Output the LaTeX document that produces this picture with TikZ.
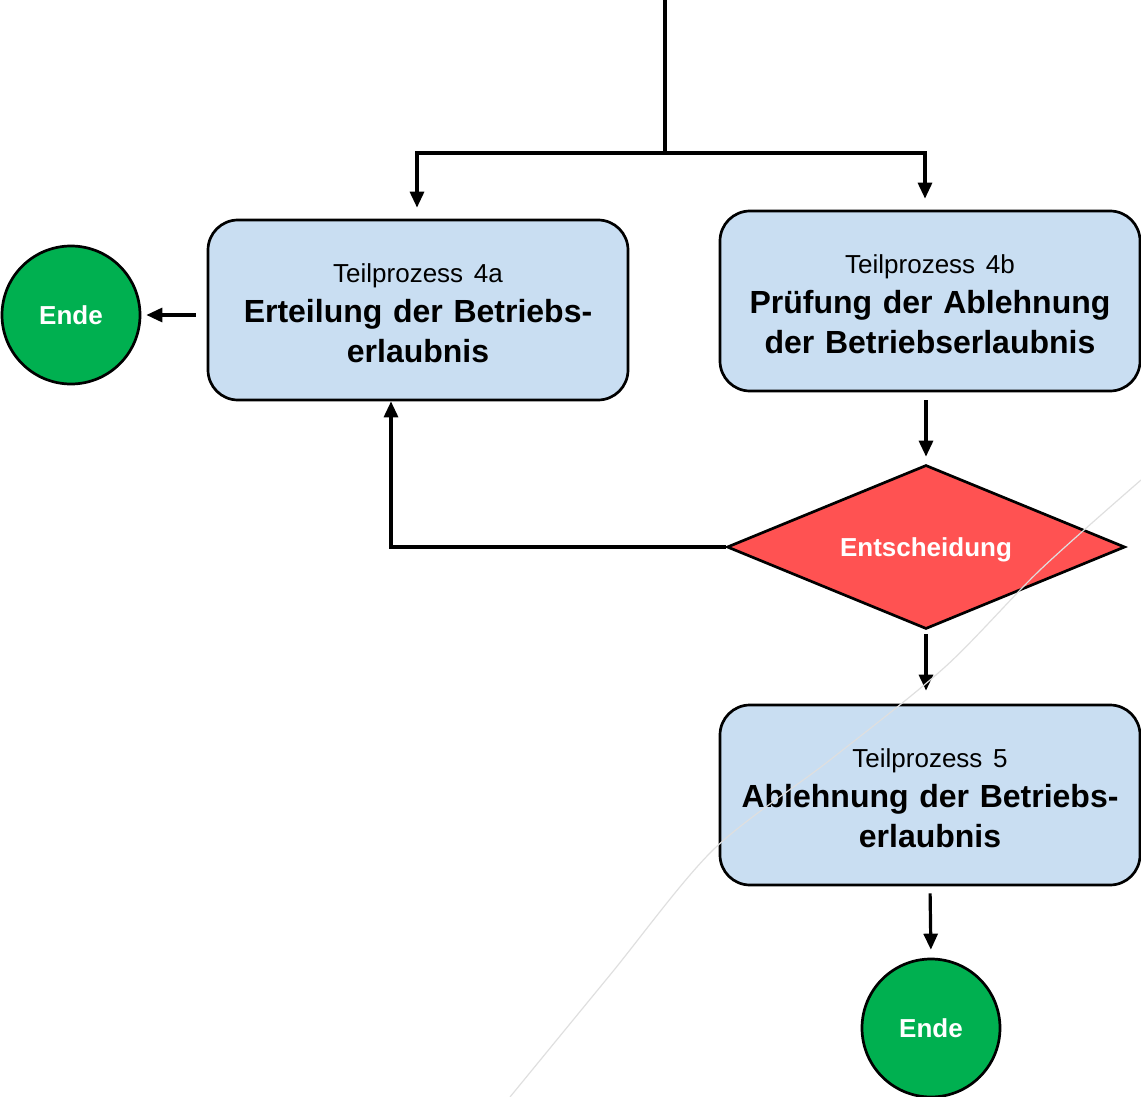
\documentclass[tikz,border=0pt]{standalone}
\usepackage{fontspec}
\setmainfont{Liberation Sans}
\usetikzlibrary{shapes, calc, arrows.meta, math}

\definecolor{hellblau}{RGB}{201,222,242}
\definecolor{gruen}{RGB}{0,176,80}
\definecolor{rot}{RGB}{255,82,82}

\newcommand{\tptitel}[1]{{\fontsize{26}{40}\selectfont\mdseries\rule{0pt}{25pt}#1}}

\begin{document}
\begin{tikzpicture}[x=1pt, y=-1pt, >={Triangle[length=16pt,width=14pt]},
	kasten/.style={draw, line width=2.7pt, fill=hellblau, rounded corners=30pt, minimum width=420pt, minimum height=180pt, text width=410pt, align=center, font=\fontsize{32}{40}\selectfont\bfseries},
	ende/.style={circle, draw, line width=2.7pt, fill=gruen, minimum size=138pt, inner sep=0pt, text=white, font=\fontsize{26}{30}\selectfont\bfseries},
	raute/.style={diamond, aspect=2.43, draw, line width=2.7pt, fill=rot, minimum width=398pt, minimum height=164pt, inner sep=0pt, text depth=0pt, text=white, font=\fontsize{26}{30}\selectfont\bfseries},
	linie/.style={line width=3.2pt}]

\tikzmath{
			\xl = 418; \xr = 930;
			\ya = 310; \yb = 301; \yc = 795;
			\yd = 547; \xd = 926;
          }

\useasboundingbox (0,0) rectangle (1141,1097);

\node[kasten] (tp4a) at (\xl,\ya) {\tptitel{Teilprozess 4a}\\Erteilung der Betriebs-\\erlaubnis};
\node[kasten] (tp4b) at (\xr,\yb) {\tptitel{Teilprozess 4b}\\Prüfung der Ablehnung\\der Betriebserlaubnis};
\node[kasten] (tp5) at (\xr,\yc) {\tptitel{Teilprozess 5}\\Ablehnung der Betriebs-\\erlaubnis};

\node[raute] (entscheidung) at (\xd,\yd) {Entscheidung};

\node[ende] (ende1) at (71,315) {Ende};
\node[ende] (ende2) at (931,1028) {Ende};

\coordinate (oben) at (665,0);
\coordinate (teilung) at (665,153);

\draw[linie] (oben) -- (teilung);
\draw[linie,->,shorten >=11pt] (teilung) -| ([xshift=-1pt]tp4a.north);
\draw[linie,->,shorten >=11pt] (teilung) -| ([xshift=-5pt]tp4b.north);

\draw[linie,->,shorten <=11pt,shorten >=5pt] (ende1.east -| tp4a.west) -- (ende1.east);

\draw[linie,->,shorten <=8pt,shorten >=7pt] (entscheidung.north |- tp4b.south) -- (entscheidung.north);
\draw[linie,->] (entscheidung.west) -| ([xshift=-27pt]tp4a.south);
\draw[linie,->,shorten <=4pt,shorten >=13pt] (entscheidung.south) -- (entscheidung.south |- tp5.north);
\draw[linie,->,shorten <=7pt,shorten >=8pt] (tp5.south) -- (ende2.north);

\draw[gray!25, line width=1.2pt] plot[smooth] coordinates {(1141,480) (1040,570) (945,667) (830,760) (713,850) (610,975) (510,1097)};

\end{tikzpicture}
\end{document}
